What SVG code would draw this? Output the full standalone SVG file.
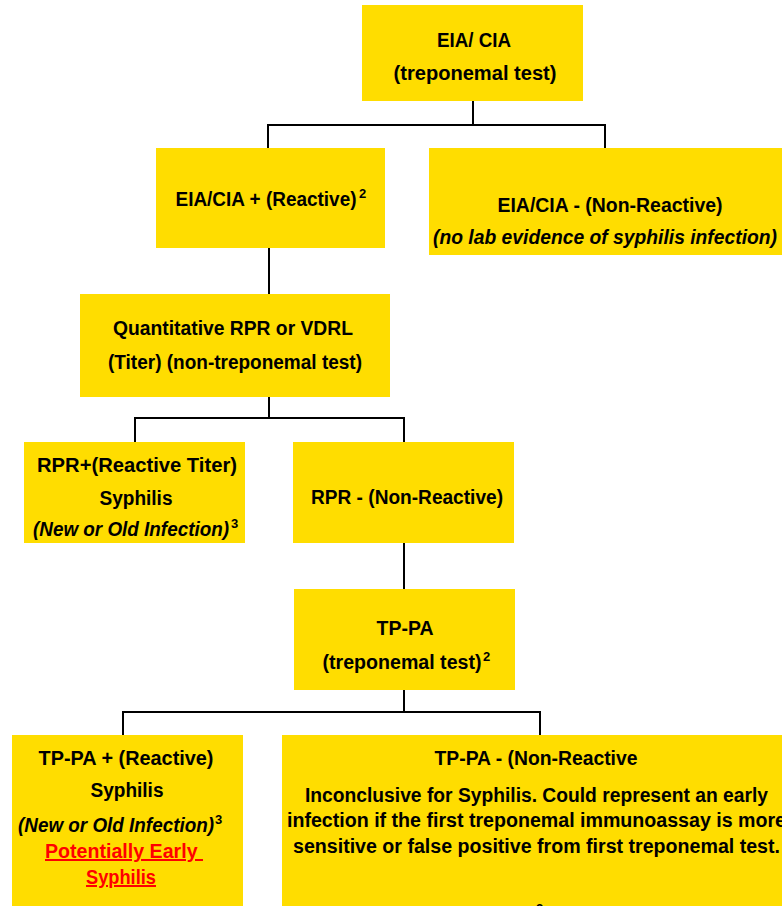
<svg xmlns="http://www.w3.org/2000/svg" width="782" height="906" viewBox="0 0 782 906">
<style>
.box{fill:#FFDD00;stroke:none}
.t{font-family:"Liberation Sans",Arial,sans-serif;font-weight:bold;font-size:20px;fill:#000;text-anchor:middle}
.i{font-style:italic}
.sup{font-family:"Liberation Sans",Arial,sans-serif;font-weight:bold;font-size:13px;fill:#000}
.red{fill:#FF0000;text-decoration:underline}
.c{fill:none;stroke:#000;stroke-width:2}
</style>
<rect width="782" height="906" fill="#fff"/>
<g id="connectors">
<path class="c" d="M473 101V125M268 125H605M268 124V148M605 124V148"/>
<path class="c" d="M269 248V294"/>
<path class="c" d="M269 397V418M134 418H404M135 417V442M404 417V442"/>
<path class="c" d="M404 543V589"/>
<path class="c" d="M404 690V712M123 712H540M123 711V735M540 711V735"/>
</g>
<g id="eia">
<rect class="box" x="362" y="5" width="221" height="96"/>
<text class="t" x="474" y="47" textLength="74" lengthAdjust="spacingAndGlyphs">EIA/ CIA</text>
<text class="t" x="475" y="80" textLength="163" lengthAdjust="spacingAndGlyphs">(treponemal test)</text>
</g>
<g id="eia-pos">
<rect class="box" x="156" y="148" width="229" height="100"/>
<text class="t" x="266" y="206" textLength="181" lengthAdjust="spacingAndGlyphs">EIA/CIA + (Reactive)</text>
<text class="sup" x="359" y="198">2</text>
</g>
<g id="eia-neg">
<rect class="box" x="429" y="148" width="353" height="107"/>
<text class="t" x="610" y="212" textLength="225" lengthAdjust="spacingAndGlyphs">EIA/CIA - (Non-Reactive)</text>
<text class="t i" x="605" y="244" textLength="344" lengthAdjust="spacingAndGlyphs">(no lab evidence of syphilis infection)</text>
</g>
<g id="quant">
<rect class="box" x="80" y="294" width="310" height="103"/>
<text class="t" x="233" y="335" textLength="240" lengthAdjust="spacingAndGlyphs">Quantitative RPR or VDRL</text>
<text class="t" x="235" y="369" textLength="254" lengthAdjust="spacingAndGlyphs">(Titer) (non-treponemal test)</text>
</g>
<g id="rpr-pos">
<rect class="box" x="24" y="442" width="221" height="101"/>
<text class="t" x="137" y="472" textLength="200" lengthAdjust="spacingAndGlyphs">RPR+(Reactive Titer)</text>
<text class="t" x="136" y="505" textLength="73" lengthAdjust="spacingAndGlyphs">Syphilis</text>
<text class="t i" x="131" y="536" textLength="196" lengthAdjust="spacingAndGlyphs">(New or Old Infection)</text>
<text class="sup" x="231" y="528">3</text>
</g>
<g id="rpr-neg">
<rect class="box" x="293" y="442" width="221" height="101"/>
<text class="t" x="407" y="504" textLength="192" lengthAdjust="spacingAndGlyphs">RPR - (Non-Reactive)</text>
</g>
<g id="tppa">
<rect class="box" x="294" y="589" width="221" height="101"/>
<text class="t" x="405" y="635" textLength="57" lengthAdjust="spacingAndGlyphs">TP-PA</text>
<text class="t" x="402" y="669" textLength="159" lengthAdjust="spacingAndGlyphs">(treponemal test)</text>
<text class="sup" x="483" y="661">2</text>
</g>
<g id="tppa-pos">
<rect class="box" x="12" y="735" width="231" height="171"/>
<text class="t" x="126" y="765" textLength="175" lengthAdjust="spacingAndGlyphs">TP-PA + (Reactive)</text>
<text class="t" x="127" y="797" textLength="73" lengthAdjust="spacingAndGlyphs">Syphilis</text>
<text class="t i" x="116" y="832" textLength="196" lengthAdjust="spacingAndGlyphs">(New or Old Infection)</text>
<text class="sup" x="215" y="824">3</text>
<text class="t red" x="124" y="858" textLength="158" lengthAdjust="spacingAndGlyphs">Potentially Early&#160;</text>
<text class="t red" x="121" y="884" textLength="70" lengthAdjust="spacingAndGlyphs">Syphilis</text>
</g>
<g id="tppa-neg">
<rect class="box" x="282" y="735" width="500" height="171"/>
<text class="t" x="536" y="765" textLength="203" lengthAdjust="spacingAndGlyphs">TP-PA - (Non-Reactive</text>
<text class="t" x="536.5" y="802" textLength="463" lengthAdjust="spacingAndGlyphs">Inconclusive for Syphilis. Could represent an early</text>
<text class="t" x="536.5" y="827" textLength="499" lengthAdjust="spacingAndGlyphs">infection if the first treponemal immunoassay is more</text>
<text class="t" x="536.5" y="853" textLength="487" lengthAdjust="spacingAndGlyphs">sensitive or false positive from first treponemal test.</text>
<text class="sup" x="536" y="913">2</text>
</g>
</svg>
